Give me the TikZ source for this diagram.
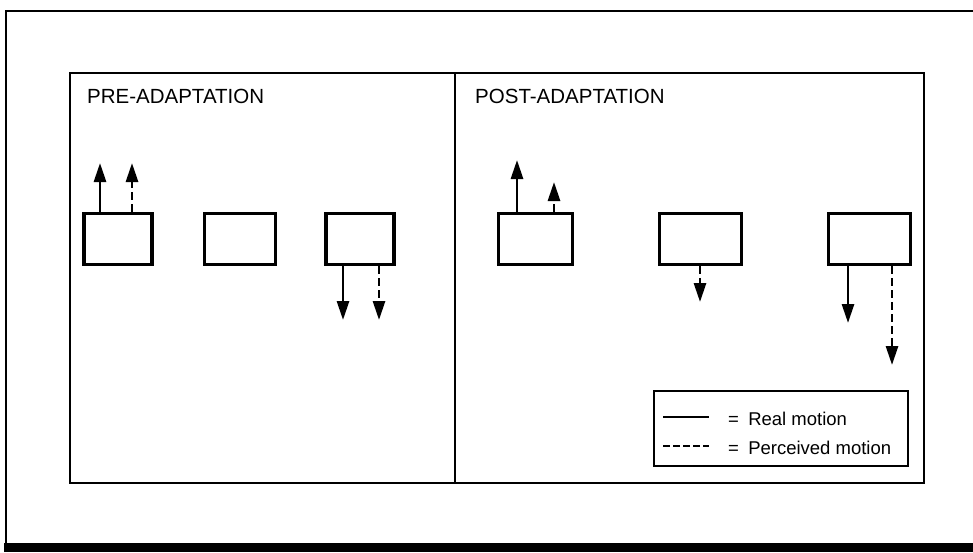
\documentclass[tikz,border=0pt]{standalone}
\usepackage{fontspec}
\setmainfont{Liberation Sans}
\usetikzlibrary{arrows.meta}
\tikzset{
  frm/.style   = {draw=black, line width=2.6pt},
  pnl/.style   = {rectangle, draw=black, line width=2.8pt, inner sep=0pt,
                  minimum height=410pt},
  bx/.style    = {rectangle, draw=black, line width=3.2pt, inner sep=0pt,
                  minimum height=51pt},
  keybox/.style= {rectangle, draw=black, line width=2.4pt, inner sep=0pt,
                  minimum width=254pt, minimum height=75pt},
  mv/.style    = {-{Triangle[length=19pt,width=12pt]}, line width=2.8pt, black},
  mvd/.style   = {mv, dash pattern=on 8pt off 4pt},
  ttl/.style   = {font=\fontsize{20.5}{24}\selectfont, inner sep=0pt, anchor=base west},
  lgt/.style   = {font=\fontsize{18.5}{22}\selectfont, inner sep=0pt, anchor=base west},
}

\begin{document}
\begin{tikzpicture}[x=1pt, y=-1pt]
  \useasboundingbox (0,0) rectangle (973,552);
  \draw[frm] (973,11) -- (6,11) -- (6,543);
  \fill[black] (4,543) rectangle (973,552);

  \node[pnl, minimum width=385pt] (pre) at (262.5,278) {};
  \node[pnl, minimum width=469pt] (post) at (689.5,278) {};
  \node[ttl] (tpre) at (87,103) {PRE-ADAPTATION};
  \node[ttl] (tpost) at (475,103) {POST-ADAPTATION};

  \node[bx, minimum width=68pt] (a1) at (118,239) {};
  \node[bx, minimum width=71pt] (a2) at (240,239) {};
  \node[bx, minimum width=68pt] (a3) at (360,239) {};
  \node[bx, minimum width=74pt] (b1) at (535.5,239) {};
  \node[bx, minimum width=82pt] (b2) at (700.5,239) {};
  \node[bx, minimum width=82pt] (b3) at (869.5,239) {};

  \coordinate (a1r) at (100,163);
  \coordinate (a1p) at (132,163);
  \coordinate (a3r) at (343,320);
  \coordinate (a3p) at (379,320);
  \coordinate (b1r) at (517,160);
  \coordinate (b1p) at (554,182);
  \coordinate (b2p) at (700,302);
  \coordinate (b3r) at (848,323);
  \coordinate (b3p) at (892,365);

  \draw[mv]  (a1.north -| a1r) -- (a1r);
  \draw[mvd] (a1.north -| a1p) -- (a1p);
  \draw[mv]  (a3.south -| a3r) -- (a3r);
  \draw[mvd] (a3.south -| a3p) -- (a3p);
  \draw[mv]  (b1.north -| b1r) -- (b1r);
  \draw[mvd] (b1.north -| b1p) -- (b1p);
  \draw[mvd] (b2.south -| b2p) -- (b2p);
  \draw[mv]  (b3.south -| b3r) -- (b3r);
  \draw[mvd] (b3.south -| b3p) -- (b3p);

  \node[keybox] (key) at (781,428.5) {};
  \coordinate (k1) at (663,417);
  \coordinate (k2) at (709,417);
  \coordinate (k3) at (663,446);
  \coordinate (k4) at (709,446);
  \draw[line width=2.6pt] (k1) -- (k2);
  \draw[line width=2.6pt, dash pattern=on 7pt off 3pt] (k3) -- (k4);
  \node[lgt] (kreal) at (728,425) {=\hspace{0.5em}Real motion};
  \node[lgt] (kperc) at (728,454) {=\hspace{0.5em}Perceived motion};
\end{tikzpicture}
\end{document}
